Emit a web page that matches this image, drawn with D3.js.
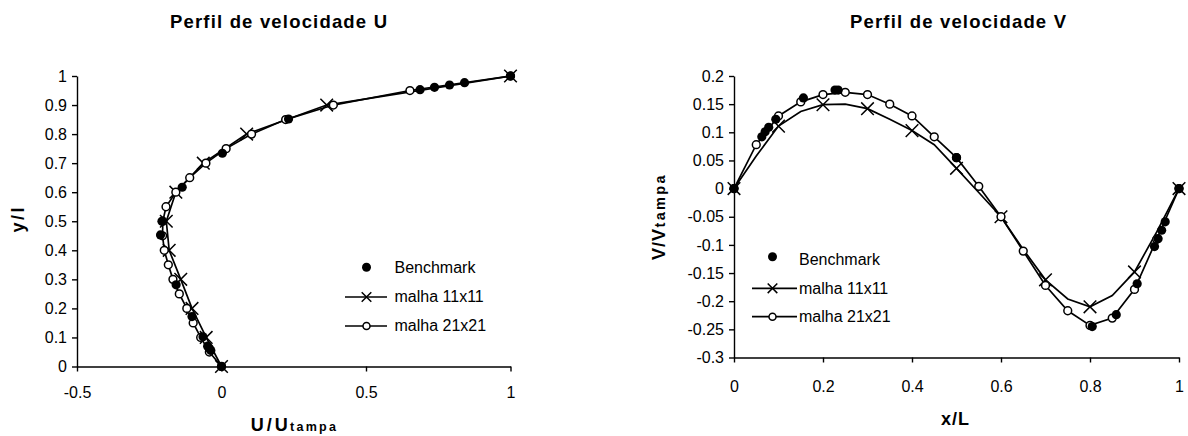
<!DOCTYPE html>
<html>
<head>
<meta charset="utf-8">
<script src="https://cdn.jsdelivr.net/npm/d3@7"></script>
<style>
  html, body { margin: 0; padding: 0; background: #fff; }
  svg { display: block; font-family: "Liberation Sans", Arial, sans-serif; }
</style>
</head>
<body>
<svg id="chart" width="1188" height="436"></svg>
<script>
// ---- Perfil de velocidade U (vertical centre line) ----
const benchUy = [1, 0.977, 0.969, 0.961, 0.953, 0.852, 0.734, 0.617, 0.5, 0.453, 0.281, 0.172, 0.102, 0.070, 0.0625, 0.055, 0];
const benchUx = [1, 0.841, 0.789, 0.737, 0.687, 0.232, 0.003, -0.136, -0.206, -0.211, -0.157, -0.102, -0.064, -0.048, -0.042, -0.037, 0];

const m11Uy = [0, 0.1, 0.2, 0.3, 0.4, 0.5, 0.6, 0.7, 0.8, 0.9, 1];
const m11Ux = [0, -0.053, -0.102, -0.141, -0.181, -0.191, -0.158, -0.063, 0.087, 0.364, 1];

const m21Uy = [0, 0.05, 0.1, 0.15, 0.2, 0.25, 0.3, 0.35, 0.4, 0.45, 0.5, 0.55, 0.6, 0.65, 0.7, 0.75, 0.8, 0.85, 0.9, 0.95, 1];
const m21Ux = [0, -0.042, -0.072, -0.098, -0.12, -0.146, -0.168, -0.184, -0.198, -0.204, -0.203, -0.192, -0.158, -0.11, -0.054, 0.016, 0.104, 0.222, 0.387, 0.652, 1];

const uTicksX = [-0.5, 0, 0.5, 1];
const uTicksY = [0, 0.1, 0.2, 0.3, 0.4, 0.5, 0.6, 0.7, 0.8, 0.9, 1];

// ---- Perfil de velocidade V (horizontal centre line) ----
const benchVx = [1, 0.969, 0.961, 0.953, 0.945, 0.906, 0.859, 0.805, 0.5, 0.234, 0.227, 0.156, 0.094, 0.078, 0.070, 0.0625, 0];
const benchVy = [0, -0.059, -0.074, -0.089, -0.103, -0.169, -0.224, -0.245, 0.055, 0.175, 0.175, 0.161, 0.123, 0.109, 0.101, 0.092, 0];

const m11Vx = [0, 0.05, 0.1, 0.15, 0.2, 0.25, 0.3, 0.35, 0.4, 0.45, 0.5, 0.55, 0.6, 0.65, 0.7, 0.75, 0.8, 0.85, 0.9, 0.95, 1];
const m11Vy = [0, 0.058, 0.111, 0.137, 0.149, 0.150, 0.142, 0.123, 0.103, 0.078, 0.036, -0.007, -0.05, -0.108, -0.162, -0.196, -0.21, -0.19, -0.148, -0.077, 0];

const m21Vx = [0, 0.05, 0.1, 0.15, 0.2, 0.25, 0.3, 0.35, 0.4, 0.45, 0.5, 0.55, 0.6, 0.65, 0.7, 0.75, 0.8, 0.85, 0.9, 0.95, 1];
const m21Vy = [0, 0.078, 0.129, 0.154, 0.167, 0.171, 0.167, 0.15, 0.129, 0.092, 0.055, 0.004, -0.05, -0.111, -0.172, -0.217, -0.243, -0.23, -0.179, -0.09, 0];

const vTicksX = [0, 0.2, 0.4, 0.6, 0.8, 1];
const vTicksY = [0.2, 0.15, 0.1, 0.05, 0, -0.05, -0.1, -0.15, -0.2, -0.25, -0.3];

const legendLabels = ["Benchmark", "malha 11x11", "malha 21x21"];

const svg = d3.select("#chart");
const INK = "#000";

function zip(xs, ys) { return xs.map((v, i) => [v, ys[i]]); }

function xPath(s) { return `M${-s},${-s}L${s},${s}M${-s},${s}L${s},${-s}`; }

function drawAxes(g, x, y, xTicks, yTicks, xPad) {
  const ya = g.append("g")
    .attr("transform", `translate(${x.range()[0]},0)`)
    .call(d3.axisLeft(y).tickValues(yTicks).tickFormat(d => String(d))
      .tickSize(5).tickSizeOuter(0).tickPadding(5));
  const xa = g.append("g")
    .attr("transform", `translate(0,${y.range()[0]})`)
    .call(d3.axisBottom(x).tickValues(xTicks).tickFormat(d => String(d))
      .tickSize(5).tickSizeOuter(0).tickPadding(xPad));
  [ya, xa].forEach(a => {
    a.attr("font-size", 16).attr("font-family", null);
    a.selectAll("path, line").attr("stroke", INK).attr("stroke-width", 1.4);
    a.selectAll("text").attr("fill", INK);
  });
}

function drawSeries(g, x, y, bench, m11, m11Every, m21) {
  const line = d3.line().x(d => x(d[0])).y(d => y(d[1]));
  g.append("path").datum(m11).attr("d", line)
    .attr("fill", "none").attr("stroke", INK).attr("stroke-width", 1.7);
  g.append("path").datum(m21).attr("d", line)
    .attr("fill", "none").attr("stroke", INK).attr("stroke-width", 1.7);

  g.selectAll(".m11").data(m11.filter((d, i) => i % m11Every === 0)).join("path")
    .attr("class", "m11")
    .attr("transform", d => `translate(${x(d[0])},${y(d[1])})`)
    .attr("d", xPath(6.3)).attr("stroke", INK).attr("stroke-width", 1.5).attr("fill", "none");

  g.selectAll(".m21").data(m21).join("circle")
    .attr("class", "m21")
    .attr("cx", d => x(d[0])).attr("cy", d => y(d[1])).attr("r", 3.9)
    .attr("fill", "#fff").attr("stroke", INK).attr("stroke-width", 1.5);

  g.selectAll(".bench").data(bench).join("circle")
    .attr("class", "bench")
    .attr("cx", d => x(d[0])).attr("cy", d => y(d[1])).attr("r", 4.6)
    .attr("fill", INK);
}

function drawLegend(g, dotX, lineX0, lineX1, textX, rows) {
  // rows: [centre y of marker, text baseline]
  g.append("circle").attr("cx", dotX).attr("cy", rows[0][0]).attr("r", 4.5).attr("fill", INK);
  g.append("line").attr("x1", lineX0).attr("x2", lineX1).attr("y1", rows[1][0]).attr("y2", rows[1][0])
    .attr("stroke", INK).attr("stroke-width", 1.7);
  g.append("path").attr("transform", `translate(${dotX},${rows[1][0]})`).attr("d", xPath(4.8))
    .attr("stroke", INK).attr("stroke-width", 1.5);
  g.append("line").attr("x1", lineX0).attr("x2", lineX1).attr("y1", rows[2][0]).attr("y2", rows[2][0])
    .attr("stroke", INK).attr("stroke-width", 1.7);
  g.append("circle").attr("cx", dotX).attr("cy", rows[2][0]).attr("r", 3.5)
    .attr("fill", "#fff").attr("stroke", INK).attr("stroke-width", 1.5);
  legendLabels.forEach((t, i) => {
    g.append("text").attr("x", textX).attr("y", rows[i][1])
      .attr("font-size", 16).attr("fill", INK).text(t);
  });
}

// ---------- left panel ----------
const xU = d3.scaleLinear().domain([-0.5, 1]).range([77, 510.5]);
const yU = d3.scaleLinear().domain([0, 1]).range([366.5, 76]);
const gU = svg.append("g");

gU.append("text").attr("x", 278.5).attr("y", 27.7).attr("text-anchor", "middle")
  .attr("font-size", 18.5).attr("font-weight", "bold").attr("textLength", 217)
  .attr("lengthAdjust", "spacing").attr("fill", INK).text("Perfil de velocidade U");

drawAxes(gU, xU, yU, uTicksX, uTicksY, 15);
drawSeries(gU, xU, yU, zip(benchUx, benchUy), zip(m11Ux, m11Uy), 1, zip(m21Ux, m21Uy));
drawLegend(gU, 366.5, 345, 387, 394.5, [[267.3, 273.3], [297, 302], [326, 331]]);

gU.append("text").attr("x", 250.7).attr("y", 431).attr("font-size", 18).attr("font-weight", "bold")
  .attr("textLength", 37).attr("lengthAdjust", "spacing").attr("fill", INK).text("U/U");
gU.append("text").attr("x", 290).attr("y", 431).attr("font-size", 12.5).attr("font-weight", "bold")
  .attr("textLength", 46).attr("lengthAdjust", "spacing").attr("fill", INK).text("tampa");
gU.append("text").attr("transform", "translate(24,220) rotate(-90)").attr("text-anchor", "middle")
  .attr("font-size", 18).attr("font-weight", "bold").attr("textLength", 25)
  .attr("lengthAdjust", "spacing").attr("fill", INK).text("y/l");

// ---------- right panel ----------
const xV = d3.scaleLinear().domain([0, 1]).range([734, 1179]);
const yV = d3.scaleLinear().domain([-0.3, 0.2]).range([357.5, 76]);
const gV = svg.append("g");

gV.append("text").attr("x", 958).attr("y", 27.7).attr("text-anchor", "middle")
  .attr("font-size", 18.5).attr("font-weight", "bold").attr("textLength", 216)
  .attr("lengthAdjust", "spacing").attr("fill", INK).text("Perfil de velocidade V");

drawAxes(gV, xV, yV, vTicksX, vTicksY, 18);
drawSeries(gV, xV, yV, zip(benchVx, benchVy), zip(m11Vx, m11Vy), 2, zip(m21Vx, m21Vy));
drawLegend(gV, 772.5, 752, 797, 799, [[256.7, 265], [288.3, 293.5], [316.7, 322]]);

gV.append("text").attr("x", 955).attr("y", 425).attr("text-anchor", "middle")
  .attr("font-size", 18).attr("font-weight", "bold").attr("textLength", 28)
  .attr("lengthAdjust", "spacing").attr("fill", INK).text("x/L");
const yLab = gV.append("g").attr("transform", "translate(665,260) rotate(-90)");
yLab.append("text").attr("x", 0).attr("y", 0).attr("font-size", 18).attr("font-weight", "bold")
  .attr("textLength", 31).attr("lengthAdjust", "spacing").attr("fill", INK).text("V/V");
yLab.append("text").attr("x", 32.5).attr("y", 0).attr("font-size", 14.5).attr("font-weight", "bold")
  .attr("textLength", 52).attr("lengthAdjust", "spacing").attr("fill", INK).text("tampa");
</script>
</body>
</html>
